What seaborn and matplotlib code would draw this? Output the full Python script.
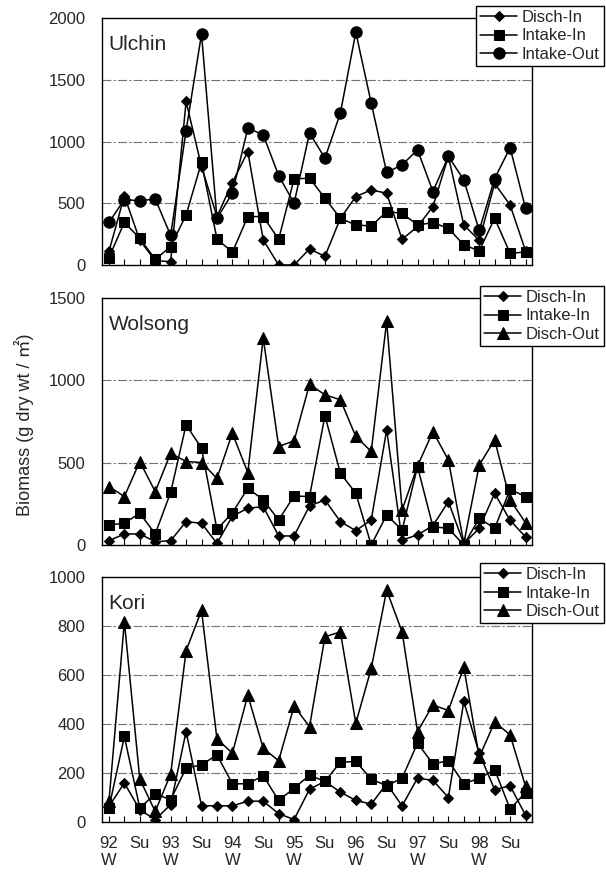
import numpy as np
import pandas as pd
import matplotlib
matplotlib.use('Agg')
import matplotlib.pyplot as plt
import seaborn as sns

# Seasonal sampling: 92 W ... 98 F (quarterly, 28 samples)
x_idx = list(range(28))
tick_pos = list(range(0, 28, 2))
tick_labels = ['92\nW', 'Su', '93\nW', 'Su', '94\nW', 'Su', '95\nW', 'Su',
               '96\nW', 'Su', '97\nW', 'Su', '98\nW', 'Su']

# Ulchin
ulchin_disch_in = [110, 560, 200, 35, 27, 1324, 797, 392, 668, 919, 203, 0, 0, 130,
                   70, 378, 554, 608, 581, 208, 311, 473, 880, 324, 200, 660, 486, 115]
ulchin_intake_in = [60, 345, 216, 45, 149, 405, 830, 211, 103, 392, 392, 208, 697, 703,
                    541, 378, 324, 316, 432, 419, 324, 343, 297, 162, 115, 378, 95, 105]
ulchin_intake_out = [345, 530, 520, 535, 240, 1089, 1870, 378, 581, 1108, 1054, 724, 500, 1068,
                     865, 1230, 1884, 1311, 749, 811, 932, 595, 880, 689, 280, 700, 950, 460]

# Wolsong
wolsong_disch_in = [26, 67, 67, 20, 26, 142, 132, 10, 175, 223, 233, 55, 55, 237,
                    274, 142, 87, 152, 699, 30, 61, 118, 263, 8, 101, 314, 150, 49]
wolsong_intake_in = [122, 132, 193, 67, 320, 730, 588, 95, 195, 345, 274, 152, 298, 294,
                     785, 436, 314, 0, 182, 91, 476, 111, 101, 0, 162, 101, 338, 294]
wolsong_disch_out = [355, 294, 507, 324, 557, 507, 501, 405, 679, 440, 1257, 598, 633, 976,
                     912, 882, 659, 568, 1358, 213, 480, 689, 516, 10, 486, 638, 273, 136]

# Kori
kori_disch_in = [64, 159, 50, 10, 71, 369, 66, 66, 66, 85, 85, 34, 10, 134,
                 166, 122, 88, 73, 156, 66, 179, 170, 100, 492, 280, 132, 148, 28]
kori_intake_in = [57, 349, 57, 115, 91, 220, 233, 274, 156, 156, 189, 88, 138, 191,
                  166, 244, 247, 175, 148, 179, 322, 237, 250, 157, 178, 214, 53, 120]
kori_disch_out = [84, 817, 175, 43, 196, 699, 864, 339, 281, 518, 301, 250, 473, 389,
                  756, 776, 403, 627, 946, 776, 369, 478, 455, 632, 265, 408, 356, 146]

sns.set_theme(style='white')
plt.rcParams['font.family'] = ['Liberation Sans', 'Noto Sans CJK KR', 'DejaVu Sans']

W, H = 606, 875
fig = plt.figure(figsize=(W / 100, H / 100), dpi=100)

markers = {'Disch-In': ('D', 5.4), 'Intake-In': ('s', 7.0),
           'Intake-Out': ('o', 8.2), 'Disch-Out': ('^', 8.0)}

panels = [
    ('Ulchin', 18, 265, 2000, 500, 6,
     {'Disch-In': ulchin_disch_in, 'Intake-In': ulchin_intake_in, 'Intake-Out': ulchin_intake_out}),
    ('Wolsong', 298, 545, 1500, 500, 286,
     {'Disch-In': wolsong_disch_in, 'Intake-In': wolsong_intake_in, 'Disch-Out': wolsong_disch_out}),
    ('Kori', 577, 822, 1000, 200, 563,
     {'Disch-In': kori_disch_in, 'Intake-In': kori_intake_in, 'Disch-Out': kori_disch_out}),
]

for i, (site, top, bot, ymax, ystep, leg_top, series) in enumerate(panels):
    ax = fig.add_axes([102 / W, 1 - bot / H, 430 / W, (bot - top) / H])
    ax.set_axisbelow(True)
    for y in np.arange(ystep, ymax, ystep):
        ax.axhline(y, color='0.45', linewidth=0.8, linestyle=(0, (8, 2, 2, 2)), zorder=0)
    for name, vals in series.items():
        m, ms = markers[name]
        sns.lineplot(x=x_idx, y=vals, ax=ax, color='black', linewidth=1.1,
                     marker=m, markersize=ms, markeredgecolor='black',
                     markerfacecolor='black', label=name)
    ax.set_xlim(-0.45, 27.42)
    ax.set_ylim(0, ymax)
    ax.set_yticks(np.arange(0, ymax + 1, ystep))
    ax.tick_params(axis='y', left=False, labelsize=12, pad=6)
    ax.set_xticks(tick_pos, minor=False)
    ax.set_xticks(x_idx, minor=True)
    ax.tick_params(axis='x', which='both', direction='in', length=4, width=0.8,
                   color='black', bottom=True, labelsize=12, pad=10)
    if i == 2:
        ax.set_xticklabels(tick_labels, ha='center', multialignment='center',
                           linespacing=1.15)
    else:
        ax.set_xticklabels([])
    for s in ax.spines.values():
        s.set_color('black')
        s.set_linewidth(1.0)
    ax.set_xlabel('')
    ax.set_ylabel('')
    ax.text(0.015, 0.93, site, transform=ax.transAxes, fontsize=15,
            ha='left', va='top')
    leg = ax.legend(loc='upper right', bbox_to_anchor=(604 / W, 1 - leg_top / H),
                    bbox_transform=fig.transFigure, fontsize=12, frameon=True,
                    fancybox=False, edgecolor='black', framealpha=1,
                    handlelength=2.2, handletextpad=0.3, labelspacing=0.2,
                    borderpad=0.25, borderaxespad=0)
    leg.get_frame().set_linewidth(1.0)

fig.text(24 / W, 1 - 425 / H, 'Biomass (g dry wt / ㎡)', rotation=90,
         ha='center', va='center', fontsize=13)

fig.savefig('out.png', dpi=100, facecolor='white')
